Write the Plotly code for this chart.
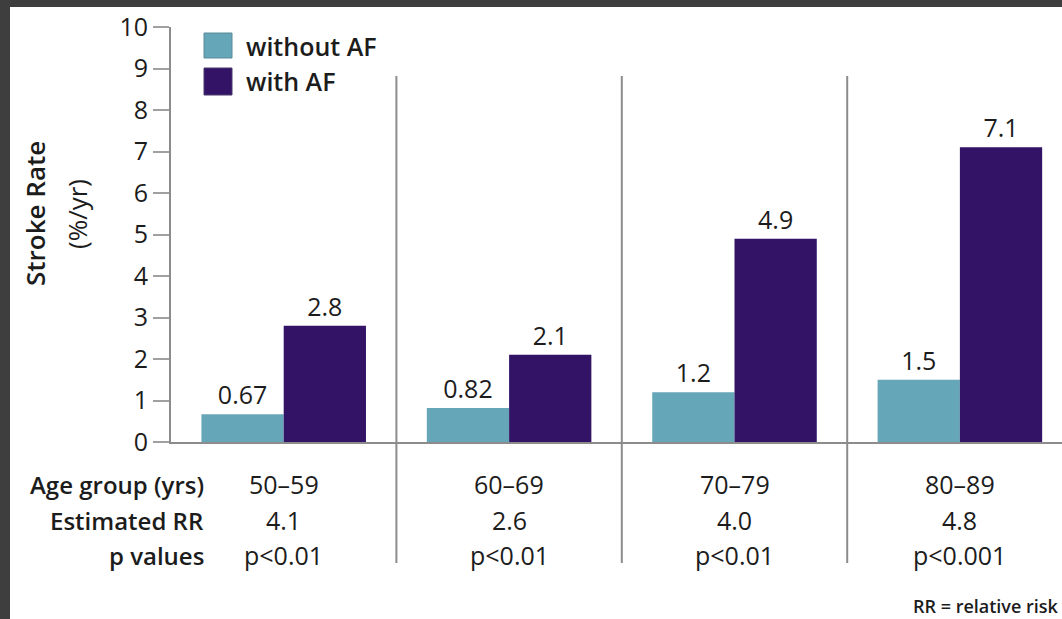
import plotly.graph_objects as go

# ---- data ----
age_groups = ["50–59", "60–69", "70–79", "80–89"]
without_af = [0.67, 0.82, 1.2, 1.5]
with_af = [2.8, 2.1, 4.9, 7.1]
estimated_rr = ["4.1", "2.6", "4.0", "4.8"]
p_values = ["p<0.01", "p<0.01", "p<0.01", "p<0.001"]
row_labels = ["Age group (yrs)", "Estimated RR", "p values"]
y_ticks = list(range(0, 11))
series_names = ["without AF", "with AF"]

# ---- style ----
W_PX, H_PX = 1062, 619
L, R, T, B = 171, 0, 27, 177
PW = W_PX - L - R
PH = H_PX - T - B
C_LIGHT = "#66a6b9"
C_DARK = "#331366"
FONT = "Open Sans"
TXT = "#1c1c1c"
GRAY = "#8c8c8c"


def px_x(X):
    return (X - L) / PW


def px_y(Y):
    return (T + PH - Y) / PH


xpos = list(range(len(age_groups)))

fig = go.Figure()
fig.add_trace(go.Bar(
    x=xpos, y=without_af, name=series_names[0], marker=dict(color=C_LIGHT, line=dict(width=0)),
    text=[str(v) for v in without_af], textposition="outside", cliponaxis=False,
    textfont=dict(family=FONT, size=25, color=TXT), showlegend=False,
))
fig.add_trace(go.Bar(
    x=xpos, y=with_af, name=series_names[1], marker=dict(color=C_DARK, line=dict(width=0)),
    text=[str(v) for v in with_af], textposition="outside", cliponaxis=False,
    textfont=dict(family=FONT, size=25, color=TXT), showlegend=False,
))

shapes = []
# group separators
for i in xpos[:-1]:
    shapes.append(dict(type="line", xref="x", yref="paper", x0=i + 0.5, x1=i + 0.5,
                       y0=px_y(563), y1=px_y(76), line=dict(color=GRAY, width=2)))
# dark frame strips
shapes.append(dict(type="rect", xref="paper", yref="paper", x0=px_x(0), x1=px_x(W_PX),
                   y0=px_y(0), y1=px_y(7), fillcolor="#3e3e3e", line=dict(width=0)))
shapes.append(dict(type="rect", xref="paper", yref="paper", x0=px_x(0), x1=px_x(10),
                   y0=px_y(0), y1=px_y(H_PX), fillcolor="#3e3e3e", line=dict(width=0)))
# legend squares
for (y0, y1), c, lc in [((33, 58), C_LIGHT, "#5a8a9a"), ((68, 95), C_DARK, "#4a3a6a")]:
    shapes.append(dict(type="rect", xref="paper", yref="paper", x0=px_x(204), x1=px_x(232),
                       y0=px_y(y1), y1=px_y(y0), fillcolor=c, line=dict(color=lc, width=1)))

annotations = []
for name, yc in zip(series_names, [46, 81]):
    annotations.append(dict(text=name, xref="paper", yref="paper", x=px_x(244), y=px_y(yc),
                            xanchor="left", yanchor="middle", showarrow=False,
                            font=dict(family=FONT, size=25, color=TXT, weight=600)))

row_y = [484, 520, 555]
for lab, yc in zip(row_labels, row_y):
    annotations.append(dict(text=lab, xref="paper", yref="paper", x=px_x(206), y=px_y(yc),
                            xanchor="right", yanchor="middle", showarrow=False,
                            font=dict(family=FONT, size=24, color=TXT, weight=600)))
for i in xpos:
    for txt, yc in zip([age_groups[i], estimated_rr[i], p_values[i]], row_y):
        annotations.append(dict(text=txt, xref="x", yref="paper", x=i, y=px_y(yc),
                                xanchor="center", yanchor="middle", showarrow=False,
                                font=dict(family=FONT, size=25, color=TXT)))

# y-axis title (two rotated lines)
annotations.append(dict(text="Stroke Rate", xref="paper", yref="paper", x=px_x(35), y=px_y(214),
                        xanchor="center", yanchor="middle", textangle=-90, showarrow=False,
                        font=dict(family=FONT, size=26, color=TXT, weight=600)))
annotations.append(dict(text="(%/yr)", xref="paper", yref="paper", x=px_x(77), y=px_y(214),
                        xanchor="center", yanchor="middle", textangle=-90, showarrow=False,
                        font=dict(family=FONT, size=26, color=TXT)))
annotations.append(dict(text="RR = relative risk", xref="paper", yref="paper", x=px_x(1061),
                        y=px_y(606), xanchor="right", yanchor="middle", showarrow=False,
                        font=dict(family=FONT, size=18, color=TXT, weight=600)))

fig.update_layout(
    width=W_PX, height=H_PX,
    margin=dict(l=L, r=R, t=T, b=B, pad=0),
    paper_bgcolor="white", plot_bgcolor="white",
    barmode="group", bargap=0.27, bargroupgap=0,
    shapes=shapes, annotations=annotations,
    xaxis=dict(range=[-0.5, 3.453], showticklabels=False, showgrid=False, zeroline=False,
               showline=True, linecolor=GRAY, linewidth=2, ticks=""),
    yaxis=dict(range=[0, 10], tickvals=y_ticks, showgrid=False, zeroline=False,
               showline=True, linecolor=GRAY, linewidth=2, ticks="outside", ticklen=16,
               tickwidth=2, tickcolor="#a0a0a0",
               tickfont=dict(family=FONT, size=25, color=TXT)),
    font=dict(family=FONT, color=TXT),
)

fig.write_html("out.html", config={"displayModeBar": False},
               post_script="document.body.style.margin='0';document.body.style.overflow='hidden';")
